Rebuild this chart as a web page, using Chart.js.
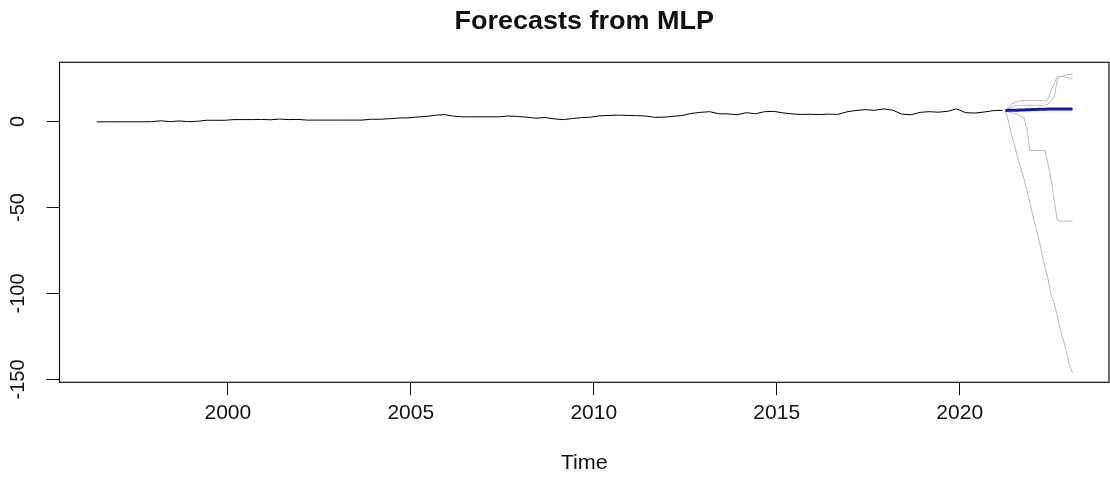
<!DOCTYPE html>
<html>
<head>
<meta charset="utf-8">
<script src="https://cdn.jsdelivr.net/npm/chart.js@4.4.1/dist/chart.umd.min.js"></script>
<style>
html,body{margin:0;padding:0;background:#fff;}
#c{display:block;}
</style>
</head>
<body>
<canvas id="c" width="1110" height="480"></canvas>
<script>
// ---- data ----
const chartTitle = "Forecasts from MLP";
const xAxisTitle = "Time";
const histStart = 1996.417;   // first observation (decimal year)
const histStep = 0.25;        // quarterly readings of the observed series
const histValues = [
  -0.3,-0.3,-0.3,-0.3,-0.3,-0.3,-0.2,0.3,-0.2,0.2,
  -0.2,0.0,0.6,0.6,0.6,1.0,1.0,1.0,1.1,0.9,
  1.3,1.0,1.1,0.7,0.7,0.7,0.7,0.7,0.7,0.7,
  1.2,1.2,1.5,1.9,2.0,2.5,2.8,3.5,3.9,3.0,
  2.6,2.6,2.6,2.6,2.6,3.1,2.8,2.4,1.8,2.2,
  1.4,1.0,1.6,2.2,2.4,3.2,3.4,3.6,3.4,3.3,
  3.1,2.3,2.4,2.9,3.4,4.6,5.2,5.6,4.4,4.3,
  3.8,5.0,4.4,5.6,5.8,4.9,4.3,4.0,4.1,3.9,
  4.2,4.0,5.5,6.3,6.8,6.4,7.2,6.5,4.2,3.8,
  5.2,5.6,5.3,5.8,7.2,5.0,4.8,5.4,6.2,6.4
];
const fcStart = 2021.25;      // first forecast month
const fcStep = 1 / 12;
const fcMean = [6.3,6.4,6.5,6.5,6.5,6.6,6.6,6.7,6.7,6.8,6.9,7.0,7.0,7.0,7.1,7.1,7.1,7.1,7.2,7.2,7.2,7.2,7.2];
const fcNet1 = [6.4,8,10,11,11.5,12,12,12,12,12,12,12,12,12,13,18,22,26,26,26.5,27,27.3,27.5];
const fcNet2 = [6.4,7,8,9,9.3,9.3,9.3,9.3,9.3,9.3,9.3,9.3,9.3,9.3,10,12,14,24,26,26,25.5,25,24.5];
const fcNet3 = [6.2,6.3,6.3,6.5,6.6,6.7,6.8,6.9,7.0,7.0,7.0,7.0,7.0,7.0,7.0,7.0,7.0,7.0,7.0,7.0,7.0,7.0,7.0];
const fcNet4 = [6.4,5.8,5,4.5,4,3,2.3,-4,-17,-17,-17,-17,-17,-17,-25,-34,-46,-57.6,-58,-58,-58,-58,-58];
const fcNet5 = [6.0,0,-8,-14,-21,-27,-33,-40,-47,-55,-62,-69,-77,-85,-92,-101,-106,-113,-121,-127,-134,-142,-146];
const xTicks = [2000, 2005, 2010, 2015, 2020];
const yTicks = [0, -50, -100, -150];

// ---- build series ----
const toPoints = (vals, start, step) => vals.map((v, i) => ({x: start + i * step, y: v}));
const FONT = "'Liberation Sans', Arial, sans-serif";

const lineDs = (label, vals, start, step, color, width, order) => ({
  label, data: toPoints(vals, start, step), borderColor: color, borderWidth: width,
  pointRadius: 0, tension: 0, fill: false, order
});

const decor = {
  id: 'decor',
  afterDraw(chart) {
    const ctx = chart.ctx, a = chart.chartArea, ys = chart.scales.y;
    const cx = (a.left + a.right) / 2;
    ctx.save();
    ctx.strokeStyle = '#111';
    ctx.lineWidth = 1.2;
    ctx.strokeRect(a.left, a.top, a.right - a.left, a.bottom - a.top);
    ctx.fillStyle = '#111';
    ctx.font = "20px " + FONT;
    ctx.lineWidth = 1;
    yTicks.forEach(v => {
      const py = Math.round(ys.getPixelForValue(v)) + 0.5;
      ctx.beginPath();
      ctx.moveTo(a.left - 13, py);
      ctx.lineTo(a.left, py);
      ctx.stroke();
      ctx.save();
      ctx.translate(18, py);
      ctx.rotate(-Math.PI / 2);
      ctx.textAlign = 'center';
      ctx.textBaseline = 'middle';
      ctx.fillText(String(v), 0, 0);
      ctx.restore();
    });
    ctx.textAlign = 'center';
    ctx.textBaseline = 'middle';
    ctx.save();
    ctx.translate(cx, 463);
    ctx.scale(1.08, 1);
    ctx.fillText(xAxisTitle, 0, 0);
    ctx.restore();
    ctx.save();
    ctx.translate(cx, 22);
    ctx.scale(1.08, 1);
    ctx.font = "bold 25px " + FONT;
    ctx.fillText(chartTitle, 0, 0);
    ctx.restore();
    ctx.restore();
  }
};

new Chart(document.getElementById('c'), {
  type: 'line',
  data: {
    datasets: [
      lineDs('Mean forecast', fcMean, fcStart, fcStep, '#1414b8', 3, 0),
      lineDs('Network 1', fcNet1, fcStart, fcStep, '#b8b8b8', 1, 1),
      lineDs('Network 2', fcNet2, fcStart, fcStep, '#b8b8b8', 1, 1),
      lineDs('Network 3', fcNet3, fcStart, fcStep, '#b8b8b8', 1, 1),
      lineDs('Network 4', fcNet4, fcStart, fcStep, '#b8b8b8', 1, 1),
      lineDs('Network 5', fcNet5, fcStart, fcStep, '#b8b8b8', 1, 1),
      lineDs('Observed', histValues, histStart, histStep, '#000000', 1, 2)
    ]
  },
  options: {
    responsive: false,
    animation: false,
    devicePixelRatio: 1,
    layout: {padding: {left: 59.5, right: 1, top: 62.3, bottom: 0}},
    plugins: {legend: {display: false}, tooltip: {enabled: false}, title: {display: false}},
    scales: {
      x: {
        type: 'linear', min: 1995.40, max: 2024.08,
        afterFit(scale) { scale.height = 480 - 382.3; },
        afterBuildTicks(scale) { scale.ticks = xTicks.map(v => ({value: v})); },
        grid: {display: true, drawOnChartArea: false, drawTicks: true, tickLength: 13, color: '#111', lineWidth: 1},
        border: {display: false},
        ticks: {color: '#111', font: {family: FONT, size: 21}, padding: 5, maxRotation: 0, minRotation: 0,
                callback: v => String(v)}
      },
      y: {
        type: 'linear', min: -151.7, max: 34.3, display: false
      }
    }
  },
  plugins: [decor]
});
</script>
</body>
</html>
